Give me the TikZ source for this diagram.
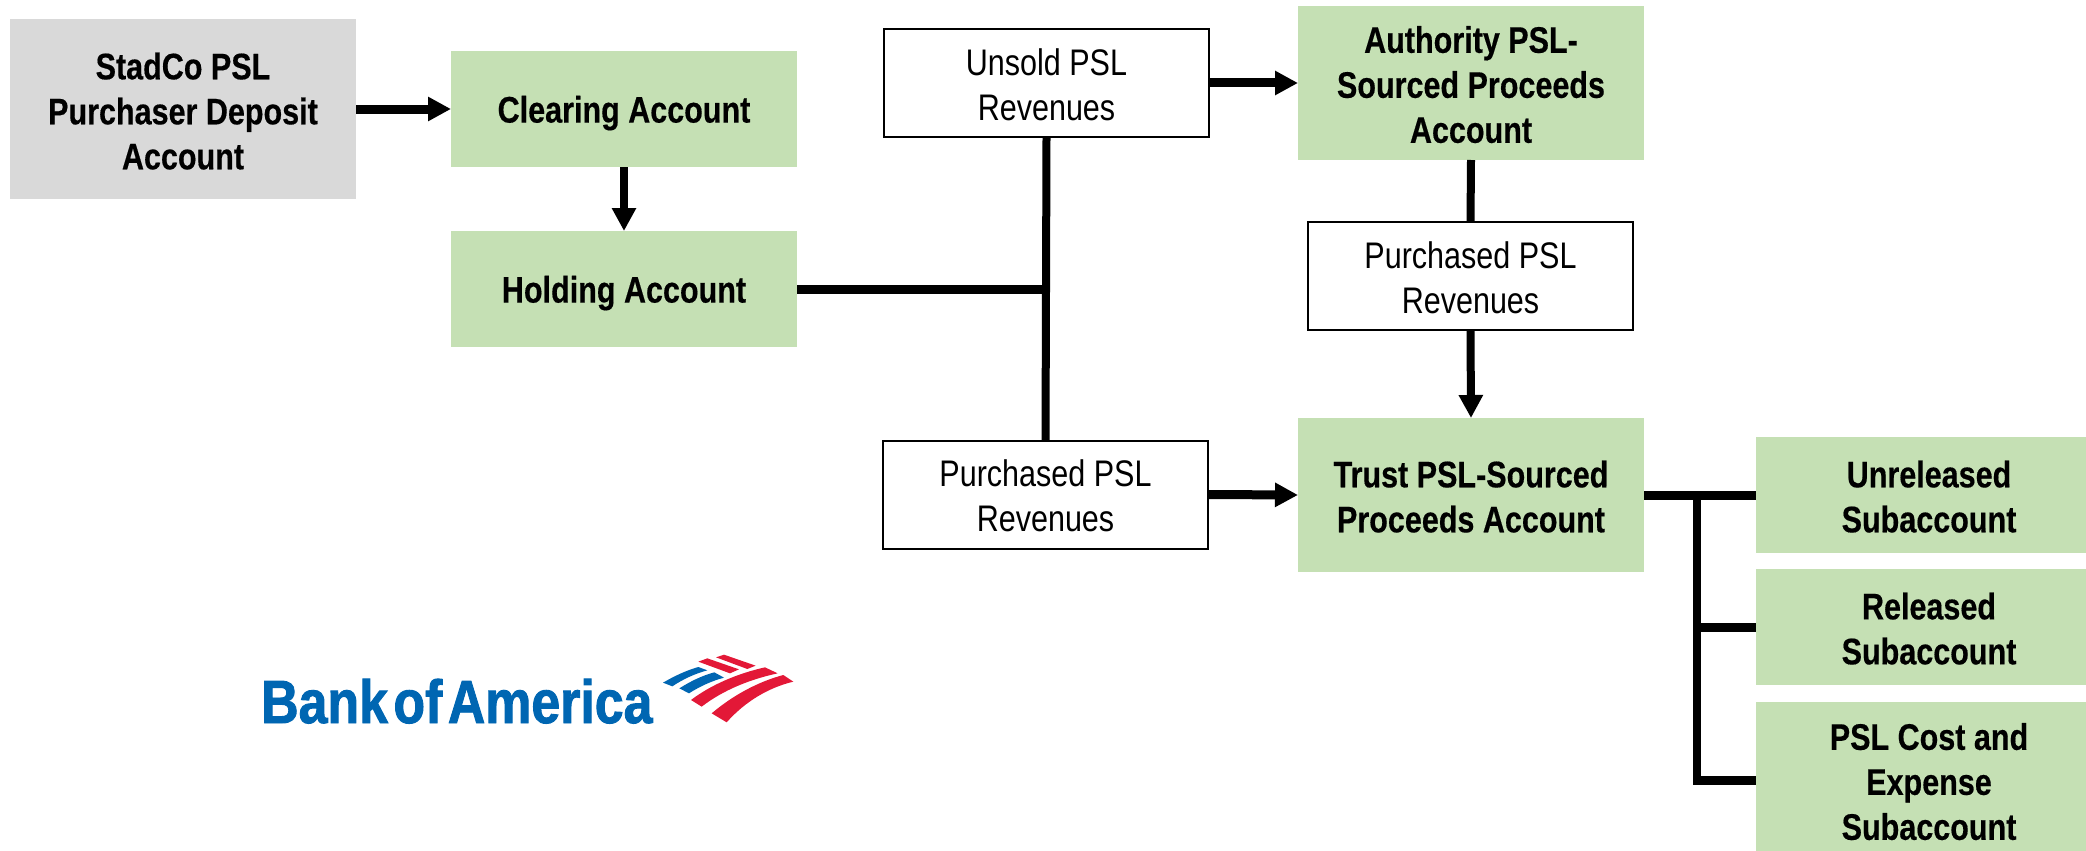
\documentclass[tikz,border=0pt]{standalone}
\usepackage{fontspec}
\setmainfont[FakeStretch=0.825,BoldFeatures={FakeBold=0.4}]{Liberation Sans}
\newfontfamily\logofont[FakeStretch=0.85,FakeBold=1.5]{Liberation Sans Bold}
\usetikzlibrary{arrows.meta}
\definecolor{boxgreen}{HTML}{C5E0B4}
\definecolor{boxgrey}{HTML}{D9D9D9}
\definecolor{logoblue}{HTML}{0066B2}
\definecolor{logored}{HTML}{E31837}
\newcommand{\toppad}[1]{\rule{0pt}{#1}}
\tikzset{
  base box/.style={rectangle,inner sep=0pt,outer sep=0pt,align=center,
    font=\fontsize{37}{45}\selectfont},
  account/.style={base box,fill=boxgreen,font=\fontsize{37}{45}\selectfont\bfseries,
    minimum width=346pt,minimum height=116pt},
  source/.style={account,fill=boxgrey,minimum height=180pt},
  revenue/.style={base box,draw=black,line width=2pt,fill=white,
    minimum width=325pt,minimum height=108pt},
  link/.style={draw=black,line width=8pt},
  hlink/.style={draw=black,line width=9pt},
  flow/.style={link,-{Triangle[length=23pt,width=23pt]}},
  hflow/.style={hlink,-{Triangle[length=23pt,width=23pt]}},
}
\begin{document}
\begin{tikzpicture}[x=1pt,y=-1pt]
\useasboundingbox (0,0) rectangle (2086,851);
\clip (0,0) rectangle (2086,851);
\node[source] (deposit) at (183,109) {\toppad{31pt}StadCo PSL\\Purchaser Deposit\\Account};
\node[account] (clearing) at (624,109) {\toppad{35pt}Clearing Account};
\node[account] (holding) at (624,289) {\toppad{35pt}Holding Account};
\node[revenue] (unsold) at (1046.5,83) {\toppad{30pt}Unsold PSL\\Revenues};
\node[revenue] (purchB) at (1045.5,494.5) {\toppad{30pt}Purchased PSL\\Revenues};
\node[account,minimum height=154pt] (authority) at (1471,83) {\toppad{30pt}Authority PSL-\\Sourced Proceeds\\Account};
\node[revenue] (purchA) at (1470.5,276) {\toppad{30pt}Purchased PSL\\Revenues};
\node[account,minimum height=154pt] (trust) at (1471,495) {\toppad{30pt}Trust PSL-Sourced\\Proceeds Account};
\node[account] (unreleased) at (1929,495) {\toppad{30pt}Unreleased\\Subaccount};
\node[account] (released) at (1929,627) {\toppad{30pt}Released\\Subaccount};
\node[account,minimum height=156pt] (cost) at (1929,780) {\toppad{30pt}PSL Cost and\\Expense\\Subaccount};
\coordinate (trunk) at (1697,495);
\draw[hflow] (deposit.east) -- (clearing.west);
\draw[flow] (clearing.south) -- (holding.north);
\draw[link] (unsold.south) -- (purchB.north);
\draw[hlink] (holding.east) -- (holding.east -| unsold.south);
\draw[hflow] (unsold.east) -- (authority.west);
\draw[link] (authority.south) -- (purchA.north);
\draw[flow] (purchA.south) -- (trust.north);
\draw[hflow] (purchB.east) -- (trust.west);
\draw[hlink] (trust.east) -- (unreleased.west);
\draw[hlink] (trunk |- released.west) -- (released.west);
\draw[link] (trunk) -- (trunk |- cost.west);
\draw[hlink] ([xshift=-4pt]trunk |- cost.west) -- (cost.west);
% logo
\node[anchor=base west,inner sep=0pt,text=logoblue,font=\fontsize{61}{61}\logofont] (logo) at (261,723) {Bank\hspace{.09em}of\hspace{.09em}America};
\begin{scope}[shift={(655,645)},x=.3333pt,y=-.3333pt]
\fill[logored] (183,37) -- (207,29) -- (302,62) -- (277,72) -- cycle;
\fill[logored] (130,50) -- (157,40) -- (252,73) -- (225,85) -- cycle;
\fill[logoblue] (24,113) .. controls (60,92) and (95,76) .. (130,66) -- (157,76) .. controls (120,86) and (85,102) .. (52,124) -- cycle;
\fill[logoblue] (73,130) .. controls (105,110) and (140,92) .. (178,82) -- (207,98) .. controls (170,108) and (135,124) .. (102,145) -- cycle;
\fill[logored] (108,165) .. controls (170,118) and (250,85) .. (330,67) -- (368,85) .. controls (285,103) and (205,135) .. (140,185) -- cycle;
\fill[logored] (170,205) .. controls (235,150) and (310,110) .. (385,90) -- (415,110) .. controls (340,128) and (270,170) .. (215,232) -- cycle;
\end{scope}
\end{tikzpicture}
\end{document}
